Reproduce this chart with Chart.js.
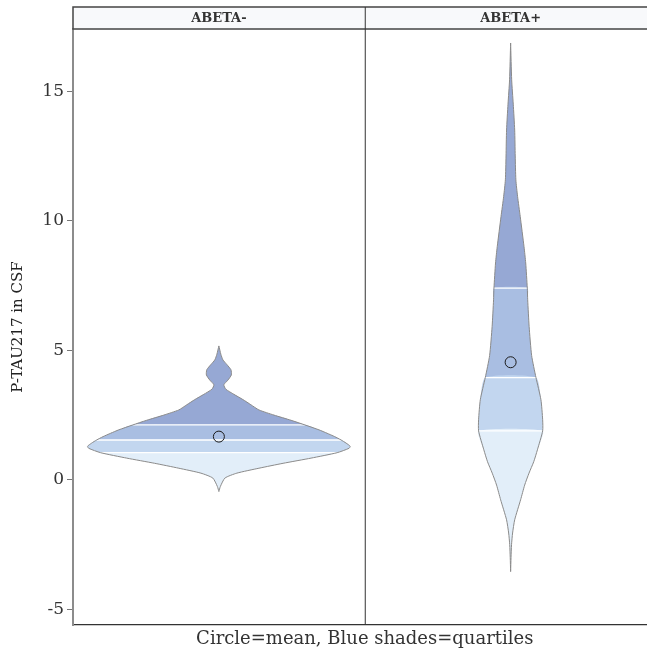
<!DOCTYPE html>
<html>
<head>
<meta charset="utf-8">
<script src="https://cdn.jsdelivr.net/npm/chart.js@4/dist/chart.umd.min.js"></script>
<style>
  html, body { margin: 0; padding: 0; background: #fff; overflow: hidden; }
  #wrap { width: 663px; height: 652px; }
</style>
</head>
<body>
<div id="wrap"><canvas id="violin" width="663" height="652"></canvas></div>
<script>
// Facet panels
const panels = ['ABETA-', 'ABETA+'];

// Y axis tick labels
const yTicks = [-5, 0, 5, 10, 15];

// ABETA- : value levels and relative density (widest = 1)
const negLevels  = [-0.45, -0.26, 0.07, 0.26, 0.45, 0.64, 0.84, 1.05, 1.22, 1.30, 1.42, 1.54, 1.67, 1.80, 1.93,
                    2.12, 2.30, 2.50, 2.70, 2.90, 3.10, 3.30, 3.50, 3.67, 3.85, 4.05, 4.25, 4.45, 4.63, 4.85, 5.17];
const negDensity = [0, 0.011, 0.046, 0.137, 0.305, 0.489, 0.702, 0.901, 0.992, 1.0, 0.969, 0.931, 0.882, 0.824, 0.763,
                    0.656, 0.550, 0.420, 0.305, 0.244, 0.183, 0.115, 0.053, 0.038, 0.069, 0.095, 0.092, 0.061, 0.031, 0.015, 0];
const negQuartiles = [1.05, 1.54, 2.12];
const negMean = 1.67;

// ABETA+
const posLevels  = [-3.54, -3.0, -2.5, -2.05, -1.54, -0.77, -0.2, 0.26, 0.7, 1.16, 1.89, 2.32, 3.09, 3.95,
                    4.8, 5.92, 6.95, 7.40, 8.37, 9.0, 10.17, 10.94, 11.58, 12.5, 13.5, 14.5, 15.44, 16.86];
const posDensity = [0, 0.003, 0.007, 0.015, 0.031, 0.076, 0.107, 0.140, 0.176, 0.204, 0.244, 0.244, 0.231, 0.193,
                    0.160, 0.141, 0.130, 0.127, 0.115, 0.102, 0.073, 0.053, 0.040, 0.035, 0.031, 0.020, 0.008, 0];
const posQuartiles = [1.89, 3.95, 7.40];
const posMean = 4.54;

const groups = [
  { levels: negLevels, density: negDensity, quartiles: negQuartiles, mean: negMean },
  { levels: posLevels, density: posDensity, quartiles: posQuartiles, mean: posMean }
];

// lightest (below Q1) to darkest (above Q3)
const shades = ['#e2eef9', '#c2d6ef', '#a9bee2', '#96a8d4'];
const MAX_HALF_WIDTH = 0.45;   // in panel widths
const TENSION = 0.2;
const FONT = 'DejaVu Serif';

// closed outline of the violin between lo and hi (right side up, left side down)
function violinShape(g, cx, lo, hi) {
  const idx = g.levels.map((y, i) => i).filter(i => g.levels[i] >= lo - 1e-9 && g.levels[i] <= hi + 1e-9);
  const right = idx.map(i => ({ x: cx + g.density[i] * MAX_HALF_WIDTH, y: g.levels[i] }));
  const left = idx.slice().reverse().map(i => ({ x: cx - g.density[i] * MAX_HALF_WIDTH, y: g.levels[i] }));
  return right.concat(left);
}

const datasets = [];
groups.forEach((g, p) => {
  const cx = p + 0.5;
  const cuts = [-Infinity].concat(g.quartiles, [Infinity]);

  // quartile shaded pieces
  for (let k = 0; k < 4; k++) {
    datasets.push({
      data: violinShape(g, cx, cuts[k], cuts[k + 1]),
      showLine: true,
      fill: 'shape',
      backgroundColor: shades[k],
      borderColor: 'rgba(0,0,0,0)',
      borderWidth: 0,
      pointRadius: 0,
      tension: TENSION,
      order: 4
    });
  }

  // white quartile lines
  g.quartiles.forEach(q => {
    const w = g.density[g.levels.indexOf(q)] * MAX_HALF_WIDTH;
    datasets.push({
      data: [{ x: cx - w, y: q }, { x: cx + w, y: q }],
      showLine: true,
      borderColor: '#ffffff',
      borderWidth: 1.3,
      pointRadius: 0,
      order: 3
    });
  });

  // grey outline
  const outline = violinShape(g, cx, -Infinity, Infinity);
  outline.push(outline[0]);
  datasets.push({
    data: outline,
    showLine: true,
    fill: false,
    borderColor: '#8a8a8a',
    borderWidth: 1,
    pointRadius: 0,
    tension: TENSION,
    order: 2
  });

  // mean
  datasets.push({
    data: [{ x: cx, y: g.mean }],
    showLine: false,
    pointRadius: 5.5,
    pointBorderWidth: 1,
    pointBorderColor: '#1a1a1a',
    pointBackgroundColor: 'rgba(0,0,0,0)',
    order: 1
  });
});

// facet strips and panel dividers
const facetPlugin = {
  id: 'facets',
  afterDraw(chart) {
    const { ctx, chartArea, scales: { x } } = chart;
    const top = 7;
    const bottom = chartArea.top;
    ctx.save();
    ctx.fillStyle = '#f8f9fb';
    ctx.fillRect(chartArea.left, top, chartArea.right - chartArea.left, bottom - top);
    ctx.strokeStyle = '#444';
    ctx.lineWidth = 1.5;
    ctx.strokeRect(chartArea.left, top, chartArea.right - chartArea.left, bottom - top);

    ctx.lineWidth = 1;
    ctx.strokeStyle = '#333';
    ctx.font = 'bold 13px "' + FONT + '"';
    ctx.fillStyle = '#333';
    ctx.textAlign = 'center';
    ctx.textBaseline = 'middle';
    panels.forEach((name, i) => {
      const l = x.getPixelForValue(i);
      const r = x.getPixelForValue(i + 1);
      ctx.beginPath();
      ctx.moveTo(r + 0.5, top);
      ctx.lineTo(r + 0.5, chartArea.bottom);
      ctx.stroke();
      ctx.fillText(name, (l + r) / 2, (top + bottom) / 2 + 1);
    });
    ctx.restore();
  }
};

new Chart(document.getElementById('violin'), {
  type: 'scatter',
  data: { datasets: datasets },
  options: {
    responsive: false,
    animation: false,
    devicePixelRatio: 1,
    events: [],
    layout: { padding: { top: 29, right: 4, left: 0, bottom: 0 } },
    plugins: {
      legend: { display: false },
      tooltip: { enabled: false }
    },
    scales: {
      x: {
        type: 'linear',
        min: 0,
        max: 2,
        ticks: { display: false },
        grid: { display: false },
        border: { color: '#333', width: 1.2 },
        title: {
          display: true,
          text: 'Circle=mean, Blue shades=quartiles',
          font: { family: FONT, size: 18 },
          color: '#333',
          padding: { top: 0, bottom: 2 }
        },
        afterFit: s => { s.height = 27; }
      },
      y: {
        type: 'linear',
        min: -5.6,
        max: 17.4,
        afterBuildTicks: s => { s.ticks = yTicks.map(v => ({ value: v })); },
        ticks: {
          font: { family: FONT, size: 17 },
          color: '#333',
          padding: 3
        },
        grid: { drawOnChartArea: false, drawTicks: true, tickLength: 6, color: '#777', lineWidth: 1 },
        border: { color: '#8c8c8c', width: 2 },
        title: {
          display: true,
          text: 'P-TAU217 in CSF',
          font: { family: FONT, size: 15 },
          color: '#222',
          padding: { top: 9, bottom: 0 }
        },
        afterFit: s => { s.width = 73; }
      }
    }
  },
  plugins: [facetPlugin]
});
</script>
</body>
</html>
